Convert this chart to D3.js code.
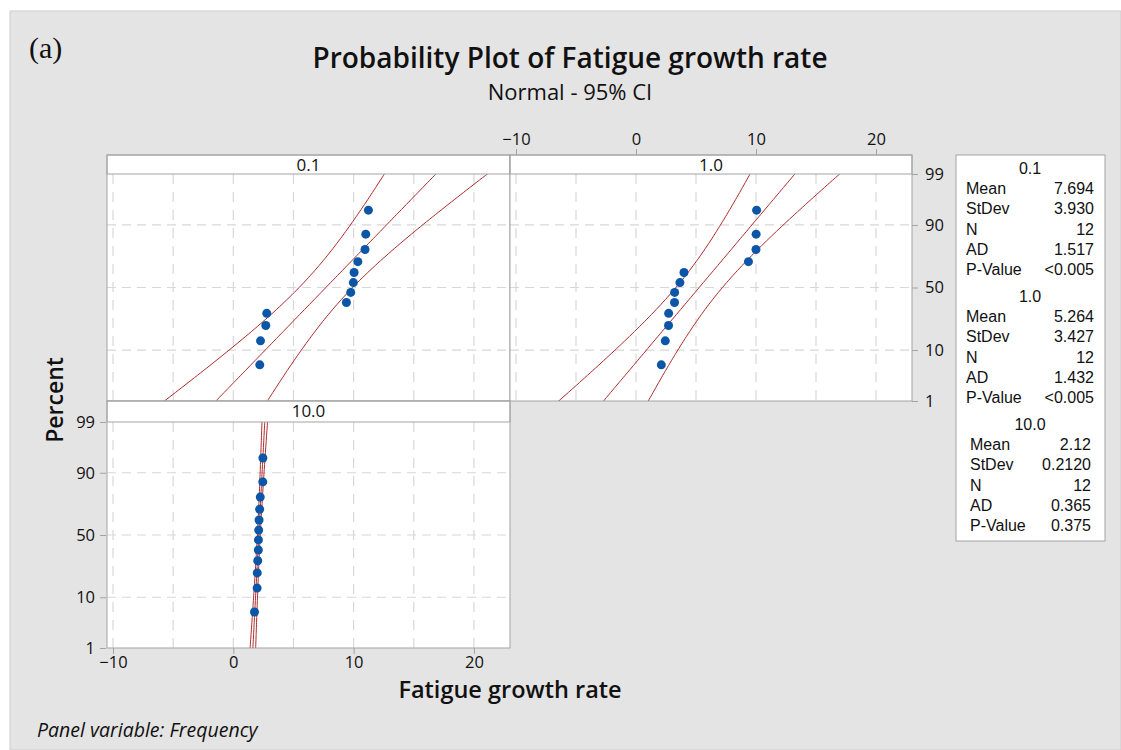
<!DOCTYPE html>
<html lang="en">
<head>
  <meta charset="UTF-8">
  <title>Probability Plot of Fatigue growth rate</title>
  <script src="https://d3js.org/d3.v7.min.js"></script>
  <style>
    body { margin: 0; background: #fff; }
    svg text { font-family: "Open Sans", "Noto Sans", sans-serif; fill: #111; }
    svg text.leg { font-family: "Liberation Sans", "DejaVu Sans", sans-serif; font-size: 16px; }
  </style>
</head>
<body>
  <svg id="chart" width="1121" height="750"></svg>
  <script>
    // panel labels (Frequency)
    const freqs = ["0.1", "1.0", "10.0"];

    // observed fatigue growth rates, sorted, per panel
    const rates01 = [2.20, 2.26, 2.70, 2.78, 9.40, 9.76, 9.98, 10.04, 10.35, 10.95, 11.01, 11.23];
    const rates10 = [2.11, 2.44, 2.71, 2.72, 3.21, 3.22, 3.66, 4.00, 9.37, 10.00, 10.01, 10.05];
    const rates100 = [1.76, 1.98, 1.99, 2.03, 2.08, 2.09, 2.11, 2.14, 2.19, 2.24, 2.45, 2.46];

    // summary statistics shown in the legend box
    const means = [7.694, 5.264, 2.12];
    const stdevs = [3.930, 3.427, 0.2120];
    const counts = [12, 12, 12];
    const adValues = ["1.517", "1.432", "0.365"];
    const pValues = ["<0.005", "<0.005", "0.375"];
    const meanText = ["7.694", "5.264", "2.12"];
    const sdText = ["3.930", "3.427", "0.2120"];

    const xTicks = [-10, 0, 10, 20];
    const xGrid = [-10, -5, 0, 5, 10, 15, 20];
    const pctTicks = [1, 10, 50, 90, 99];
    const pctGrid = [10, 50, 90];

    const allRates = [rates01, rates10, rates100];

    // inverse of the standard normal CDF (Acklam)
    function qnorm(p) {
      const a = [-39.69683028665376, 220.9460984245205, -275.9285104469687, 138.3577518672690, -30.66479806614716, 2.506628277459239];
      const b = [-54.47609879822406, 161.5858368580409, -155.6989798598866, 66.80131188771972, -13.28068155288572];
      const c = [-0.007784894002430293, -0.3223964580411365, -2.400758277161838, -2.549732539343734, 4.374664141464968, 2.938163982698783];
      const d = [0.007784695709041462, 0.3224671290700398, 2.445134137142996, 3.754408661907416];
      const pl = 0.02425;
      let q, r;
      if (p < pl) {
        q = Math.sqrt(-2 * Math.log(p));
        return (((((c[0]*q+c[1])*q+c[2])*q+c[3])*q+c[4])*q+c[5]) / ((((d[0]*q+d[1])*q+d[2])*q+d[3])*q+1);
      } else if (p <= 1 - pl) {
        q = p - 0.5; r = q * q;
        return (((((a[0]*r+a[1])*r+a[2])*r+a[3])*r+a[4])*r+a[5])*q / (((((b[0]*r+b[1])*r+b[2])*r+b[3])*r+b[4])*r+1);
      } else {
        q = Math.sqrt(-2 * Math.log(1 - p));
        return -(((((c[0]*q+c[1])*q+c[2])*q+c[3])*q+c[4])*q+c[5]) / ((((d[0]*q+d[1])*q+d[2])*q+d[3])*q+1);
      }
    }

    const svg = d3.select("#chart");

    // grey page background
    svg.append("rect").attr("x", 10).attr("y", 11).attr("width", 1111).attr("height", 739)
      .attr("fill", "#e4e4e4").attr("stroke", "#cdcdcd");

    svg.append("text").attr("x", 29).attr("y", 58)
      .style("font-family", "'Liberation Serif', 'DejaVu Serif', serif").style("font-size", "30px")
      .text("(a)");

    svg.append("text").attr("x", 570).attr("y", 68).attr("text-anchor", "middle")
      .style("font-size", "28px").style("font-weight", 600)
      .text("Probability Plot of Fatigue growth rate");
    svg.append("text").attr("x", 570).attr("y", 100).attr("text-anchor", "middle")
      .style("font-size", "22px")
      .text("Normal - 95% CI");

    // panel geometry
    const cols = [[107, 510], [510, 912]];
    const rows = [{ head: 155, top: 174, bottom: 401 }, { head: 401, top: 422, bottom: 648 }];
    const panels = [
      { col: 0, row: 0 },
      { col: 1, row: 0 },
      { col: 0, row: 1 }
    ];
    const zMax = 2.3263;
    const xDomain = [-10.5, 23.0];
    const gridColor = "#d8d8d8";
    const borderColor = "#a3a3a3";
    const lineColor = "#ad2a2a";

    panels.forEach((p, i) => {
      const [x0, x1] = cols[p.col];
      const r = rows[p.row];
      const x = d3.scaleLinear().domain(xDomain).range([x0, x1]);
      const y = d3.scaleLinear().domain([-zMax, zMax]).range([r.bottom, r.top]);
      p.x = x; p.y = y;

      const g = svg.append("g");
      g.append("rect").attr("x", x0).attr("y", r.head).attr("width", x1 - x0).attr("height", r.bottom - r.head)
        .attr("fill", "#fff");

      const clipId = "clip" + i;
      svg.append("clipPath").attr("id", clipId).append("rect")
        .attr("x", x0).attr("y", r.top).attr("width", x1 - x0).attr("height", r.bottom - r.top);

      // grid
      g.selectAll(".vg").data(xGrid).enter().append("line")
        .attr("x1", d => x(d)).attr("x2", d => x(d)).attr("y1", r.top).attr("y2", r.bottom)
        .attr("stroke", gridColor).attr("stroke-width", 1.2).attr("stroke-dasharray", "10,8");
      g.selectAll(".hg").data(pctGrid).enter().append("line")
        .attr("x1", x0).attr("x2", x1).attr("y1", d => y(qnorm(d / 100))).attr("y2", d => y(qnorm(d / 100)))
        .attr("stroke", gridColor).attr("stroke-width", 1.2).attr("stroke-dasharray", "9,6");

      // fitted line and 95% CI
      const zs = d3.range(-2.6, 2.61, 0.05);
      const mu = means[i], sd = stdevs[i], n = counts[i];
      const fit = zs.map(z => [mu + sd * z, z]);
      const se = z => sd * Math.sqrt(1 / n + z * z / (2 * n));
      const lo = zs.map(z => [mu + sd * z - 1.96 * se(z), z]);
      const hi = zs.map(z => [mu + sd * z + 1.96 * se(z), z]);
      const line = d3.line().x(d => x(d[0])).y(d => y(d[1]));
      const lg = g.append("g").attr("clip-path", `url(#${clipId})`);
      [lo, fit, hi].forEach(pts => {
        lg.append("path").attr("d", line(pts)).attr("fill", "none")
          .attr("stroke", lineColor).attr("stroke-width", 1);
      });

      // points with median-rank plotting positions
      const vals = allRates[i];
      lg.selectAll("circle").data(vals).enter().append("circle")
        .attr("cx", d => x(d))
        .attr("cy", (d, k) => y(qnorm((k + 1 - 0.3) / (vals.length + 0.4))))
        .attr("r", 4.5).attr("fill", "#0b56a6");

      // header strip and border
      g.append("rect").attr("x", x0).attr("y", r.head).attr("width", x1 - x0).attr("height", r.top - r.head)
        .attr("fill", "#fff").attr("stroke", borderColor);
      g.append("text").attr("x", (x0 + x1) / 2).attr("y", r.head + 16).attr("text-anchor", "middle")
        .style("font-size", "17px").text(freqs[i]);
      g.append("rect").attr("x", x0).attr("y", r.head).attr("width", x1 - x0).attr("height", r.bottom - r.head)
        .attr("fill", "none").attr("stroke", borderColor);
    });

    function styleAxis(sel) {
      sel.select(".domain").remove();
      sel.selectAll(".tick line").attr("stroke", borderColor);
      sel.selectAll(".tick text").style("font-size", "16.5px").style("font-family", "'Open Sans', sans-serif").attr("fill", "#111");
    }

    const pctScaleOf = r => d3.scaleLinear().domain([-zMax, zMax]).range([r.bottom, r.top]);

    // top axis on panel 1.0
    svg.append("g").attr("transform", `translate(0,${rows[0].head})`)
      .call(d3.axisTop(panels[1].x).tickValues(xTicks).tickSize(6).tickPadding(4).tickFormat(d3.format("d")))
      .call(styleAxis);

    // bottom axis on panel 10.0
    svg.append("g").attr("transform", `translate(0,${rows[1].bottom})`)
      .call(d3.axisBottom(panels[2].x).tickValues(xTicks).tickSize(6).tickPadding(2).tickFormat(d3.format("d")))
      .call(styleAxis);

    // right percent axis on panel 1.0
    const yTop = pctScaleOf(rows[0]);
    svg.append("g").attr("transform", `translate(${cols[1][1]},0)`)
      .call(d3.axisRight(yTop)
        .tickValues(pctTicks.map(d => qnorm(d / 100))).tickSize(6).tickPadding(7)
        .tickFormat((d, k) => pctTicks[k]))
      .call(styleAxis);

    // left percent axis on panel 10.0
    const yBot = pctScaleOf(rows[1]);
    svg.append("g").attr("transform", `translate(${cols[0][0] - 1},0)`)
      .call(d3.axisLeft(yBot).tickValues(pctTicks.map(d => qnorm(d / 100))).tickSize(6).tickPadding(5)
        .tickFormat((d, k) => pctTicks[k]))
      .call(styleAxis);

    svg.append("text").attr("transform", "translate(63,400) rotate(-90)").attr("text-anchor", "middle")
      .style("font-size", "23px").style("font-weight", 600).text("Percent");

    svg.append("text").attr("x", 510).attr("y", 698).attr("text-anchor", "middle")
      .style("font-size", "23.5px").style("font-weight", 600).text("Fatigue growth rate");

    svg.append("text").attr("x", 37).attr("y", 737)
      .style("font-size", "19.5px").style("font-style", "italic").text("Panel variable: Frequency");

    // legend box
    svg.append("rect").attr("x", 956).attr("y", 155).attr("width", 149).attr("height", 386)
      .attr("fill", "#fff").attr("stroke", borderColor);
    const statNames = ["Mean", "StDev", "N", "AD", "P-Value"];
    freqs.forEach((f, i) => {
      const top = 174 + i * 128;
      const lx = i === 2 ? 970 : 966;
      const rx = i === 2 ? 1091 : 1094;
      svg.append("text").attr("class", "leg").attr("x", 1030).attr("y", top).attr("text-anchor", "middle").text(f);
      const vals = [meanText[i], sdText[i], String(counts[i]), adValues[i], pValues[i]];
      statNames.forEach((s, k) => {
        const yy = top + 20 + k * 20.3;
        svg.append("text").attr("class", "leg").attr("x", lx).attr("y", yy).text(s);
        svg.append("text").attr("class", "leg").attr("x", rx).attr("y", yy).attr("text-anchor", "end").text(vals[k]);
      });
    });
  </script>
</body>
</html>
